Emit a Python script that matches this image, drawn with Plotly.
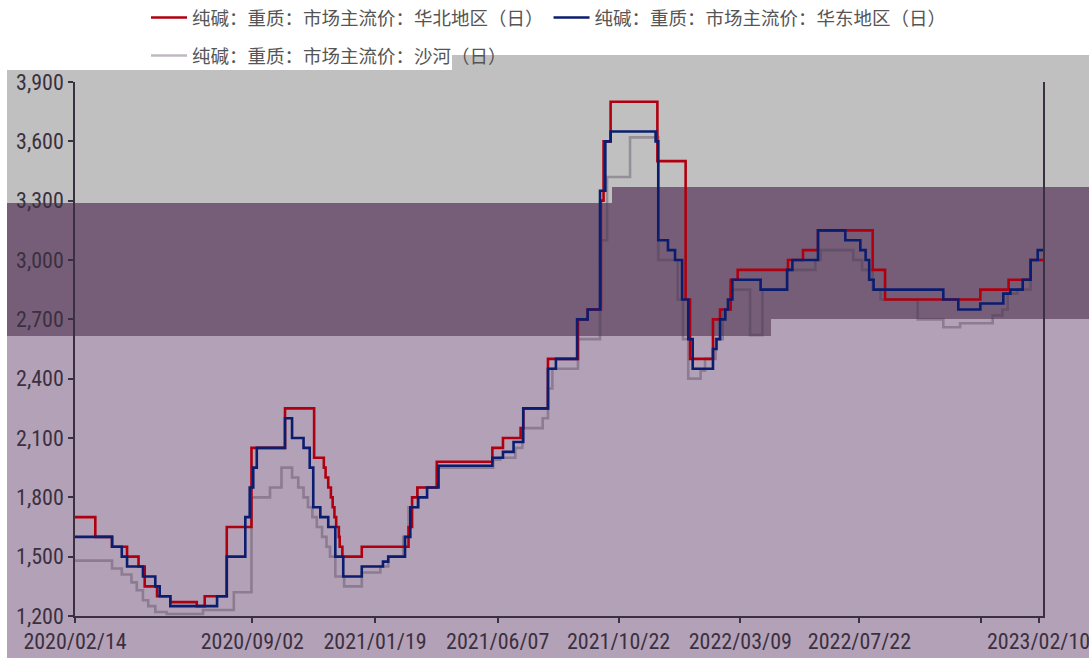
import plotly.graph_objects as go

# ---- data ----
north_dates = ["2020-02-14","2020-03-08","2020-03-27","2020-04-13","2020-04-26","2020-05-03","2020-05-17","2020-06-01","2020-07-01","2020-07-10","2020-08-04","2020-09-01","2020-10-09","2020-11-11","2020-11-22","2020-11-24","2020-11-27","2020-11-30","2020-12-02","2020-12-04","2020-12-06","2020-12-09","2020-12-10","2020-12-13","2021-01-04","2021-02-26","2021-03-02","2021-03-08","2021-03-30","2021-06-01","2021-06-13","2021-07-03","2021-07-06","2021-08-03","2021-09-06","2021-09-17","2021-10-02","2021-10-05","2021-10-13","2021-12-05","2022-01-06","2022-01-11","2022-02-06","2022-02-14","2022-02-26","2022-03-06","2022-05-02","2022-05-19","2022-06-05","2022-08-06","2022-08-20","2022-12-06","2023-01-07","2023-02-01","2023-02-15"]
north_vals = [1700,1600,1550,1500,1450,1350,1300,1270,1250,1300,1650,2050,2250,2000,1950,1900,1850,1800,1750,1700,1650,1600,1550,1500,1550,1650,1800,1850,1980,2050,2100,2150,2250,2500,2700,2750,3300,3600,3800,3500,2800,2500,2700,2750,2900,2950,3000,3050,3150,2950,2800,2850,2900,3000,3000]

east_dates = ["2020-02-14","2020-03-27","2020-04-07","2020-04-13","2020-05-01","2020-05-15","2020-05-20","2020-06-01","2020-07-24","2020-08-04","2020-08-25","2020-08-30","2020-09-03","2020-09-07","2020-10-09","2020-10-17","2020-10-30","2020-11-06","2020-11-10","2020-11-18","2020-11-27","2020-12-05","2020-12-14","2021-01-04","2021-01-28","2021-02-03","2021-02-22","2021-02-28","2021-03-09","2021-03-19","2021-04-01","2021-06-01","2021-06-13","2021-06-25","2021-07-06","2021-08-03","2021-08-12","2021-09-05","2021-09-17","2021-10-01","2021-10-07","2021-10-13","2021-12-03","2021-12-06","2021-12-17","2021-12-25","2022-01-02","2022-01-09","2022-01-14","2022-02-06","2022-02-10","2022-02-14","2022-02-20","2022-02-23","2022-02-28","2022-04-01","2022-05-01","2022-05-07","2022-06-05","2022-07-06","2022-07-23","2022-07-29","2022-08-02","2022-08-07","2022-10-25","2022-11-11","2022-12-06","2023-01-01","2023-01-09","2023-01-23","2023-02-01","2023-02-09","2023-02-15"]
east_vals = [1600,1550,1500,1450,1400,1350,1300,1250,1300,1500,1700,1850,1950,2050,2200,2100,2050,1950,1750,1700,1650,1500,1400,1450,1475,1500,1600,1750,1800,1850,1960,2000,2030,2080,2250,2450,2500,2700,2750,3350,3600,3650,3600,3100,3050,3000,2800,2600,2450,2550,2600,2700,2750,2800,2900,2850,2950,3000,3150,3100,3050,3000,2900,2850,2800,2750,2780,2830,2850,2900,3000,3050,3050]

shahe_dates = ["2020-02-14","2020-03-27","2020-04-07","2020-04-18","2020-04-24","2020-05-01","2020-05-07","2020-05-15","2020-05-28","2020-07-08","2020-08-12","2020-09-01","2020-09-22","2020-10-05","2020-10-17","2020-10-24","2020-10-30","2020-11-04","2020-11-09","2020-11-14","2020-11-20","2020-11-25","2020-11-29","2020-12-05","2020-12-15","2021-01-04","2021-01-25","2021-02-03","2021-02-20","2021-02-26","2021-03-08","2021-03-30","2021-06-02","2021-06-10","2021-06-27","2021-07-05","2021-07-28","2021-08-03","2021-08-08","2021-09-06","2021-10-01","2021-10-09","2021-11-04","2021-12-06","2021-12-28","2022-01-03","2022-01-09","2022-01-23","2022-01-28","2022-02-09","2022-02-17","2022-02-26","2022-03-20","2022-04-03","2022-05-01","2022-06-02","2022-06-08","2022-07-15","2022-07-25","2022-08-06","2022-08-15","2022-09-26","2022-10-25","2022-11-13","2022-12-20","2022-12-31","2023-01-06","2023-01-17","2023-02-01","2023-02-15"]
shahe_vals = [1480,1440,1410,1370,1330,1280,1250,1220,1210,1230,1320,1800,1850,1950,1900,1850,1800,1750,1700,1650,1600,1550,1500,1400,1350,1420,1450,1500,1600,1750,1850,1950,1990,2000,2050,2150,2200,2350,2450,2600,3100,3420,3620,3000,2800,2600,2400,2440,2500,2600,2750,2850,2620,2850,2950,3000,3050,3000,2950,2850,2800,2700,2660,2680,2720,2750,2830,2850,3000,3000]

series_names = ["纯碱：重质：市场主流价：华北地区（日）",
                "纯碱：重质：市场主流价：华东地区（日）",
                "纯碱：重质：市场主流价：沙河（日）"]

tick_dates = ["2020-02-14","2020-09-02","2021-01-19","2021-06-07","2021-10-22","2022-03-09","2022-07-22","2022-12-07","2023-02-10"]
tick_text = ["2020/02/14","2020/09/02","2021/01/19","2021/06/07","2021/10/22","2022/03/09","2022/07/22","","2023/02/10"]
y_ticks = [1200,1500,1800,2100,2400,2700,3000,3300,3600,3900]

W, H = 1089, 658
L, R, T, B = 75, 46, 82, 42
pw, ph = W - L - R, H - T - B

def px(x):
    return (x - L) / pw

def py(y):
    return (H - B - y) / ph

fig = go.Figure()
fig.add_trace(go.Scatter(x=shahe_dates, y=shahe_vals, mode="lines", line_shape="hv",
                         name=series_names[2], line=dict(color="rgba(70,55,75,0.35)", width=2.6),
                         legend="legend2"))
fig.add_trace(go.Scatter(x=north_dates, y=north_vals, mode="lines", line_shape="hv",
                         name=series_names[0], line=dict(color="#b0000f", width=2.6), legend="legend"))
fig.add_trace(go.Scatter(x=east_dates, y=east_vals, mode="lines", line_shape="hv",
                         name=series_names[1], line=dict(color="#0b1d6f", width=2.6), legend="legend"))

gray = "#c0c0c0"
dark = "#765e78"
light = "#b3a1b7"
shapes = []
def rect(x0, y0, x1, y1, color):
    shapes.append(dict(type="rect", xref="paper", yref="paper", layer="below",
                       x0=px(x0), x1=px(x1), y0=py(y1), y1=py(y0),
                       fillcolor=color, line=dict(width=0)))
rect(7, 70, 1100, 670, gray)
rect(452, 55, 1100, 71, gray)
rect(7, 336, 1100, 670, light)
rect(770, 319, 1100, 337, light)
rect(7, 203, 613, 336, dark)
rect(612, 187, 771, 336, dark)
rect(770, 187, 1100, 319, dark)

axis_col = "#3b3040"
tick_font = dict(family="Liberation Sans Narrow, Roboto Condensed, DejaVu Sans Condensed, sans-serif",
                 size=22, color=axis_col)
leg_font = dict(family="Noto Sans CJK SC", size=18.5, color="#555555")

fig.update_layout(
    width=W, height=H,
    margin=dict(l=L, r=R, t=T, b=B, autoexpand=False),
    paper_bgcolor="white", plot_bgcolor="rgba(0,0,0,0)",
    shapes=shapes,
    showlegend=True,
    legend=dict(orientation="h", x=px(146), y=py(-1), xanchor="left", yanchor="top",
                font=leg_font, bgcolor="rgba(0,0,0,0)", itemwidth=36, traceorder="normal"),
    legend2=dict(orientation="h", x=px(146), y=py(37), xanchor="left", yanchor="top",
                 font=leg_font, bgcolor="rgba(0,0,0,0)", itemwidth=36),
    xaxis=dict(type="date", range=["2020-02-14", "2023-02-15"],
               tickvals=tick_dates, ticktext=tick_text, ticklabeloverflow="allow",
               showgrid=False, zeroline=False,
               showline=True, linecolor=axis_col, linewidth=1.5,
               ticks="outside", ticklen=5, tickcolor=axis_col, tickwidth=1.5,
               tickfont=tick_font),
    yaxis=dict(range=[1200, 3900], tickvals=y_ticks, tickformat=",",
               showgrid=False, zeroline=False,
               showline=True, linecolor=axis_col, linewidth=1.5, mirror=True,
               ticks="outside", ticklen=5, tickcolor=axis_col, tickwidth=1.5,
               tickfont=tick_font),
)

fig.write_html("out.html", config={"displayModeBar": False},
               post_script="document.body.style.margin='0';document.body.style.overflow='hidden';")
